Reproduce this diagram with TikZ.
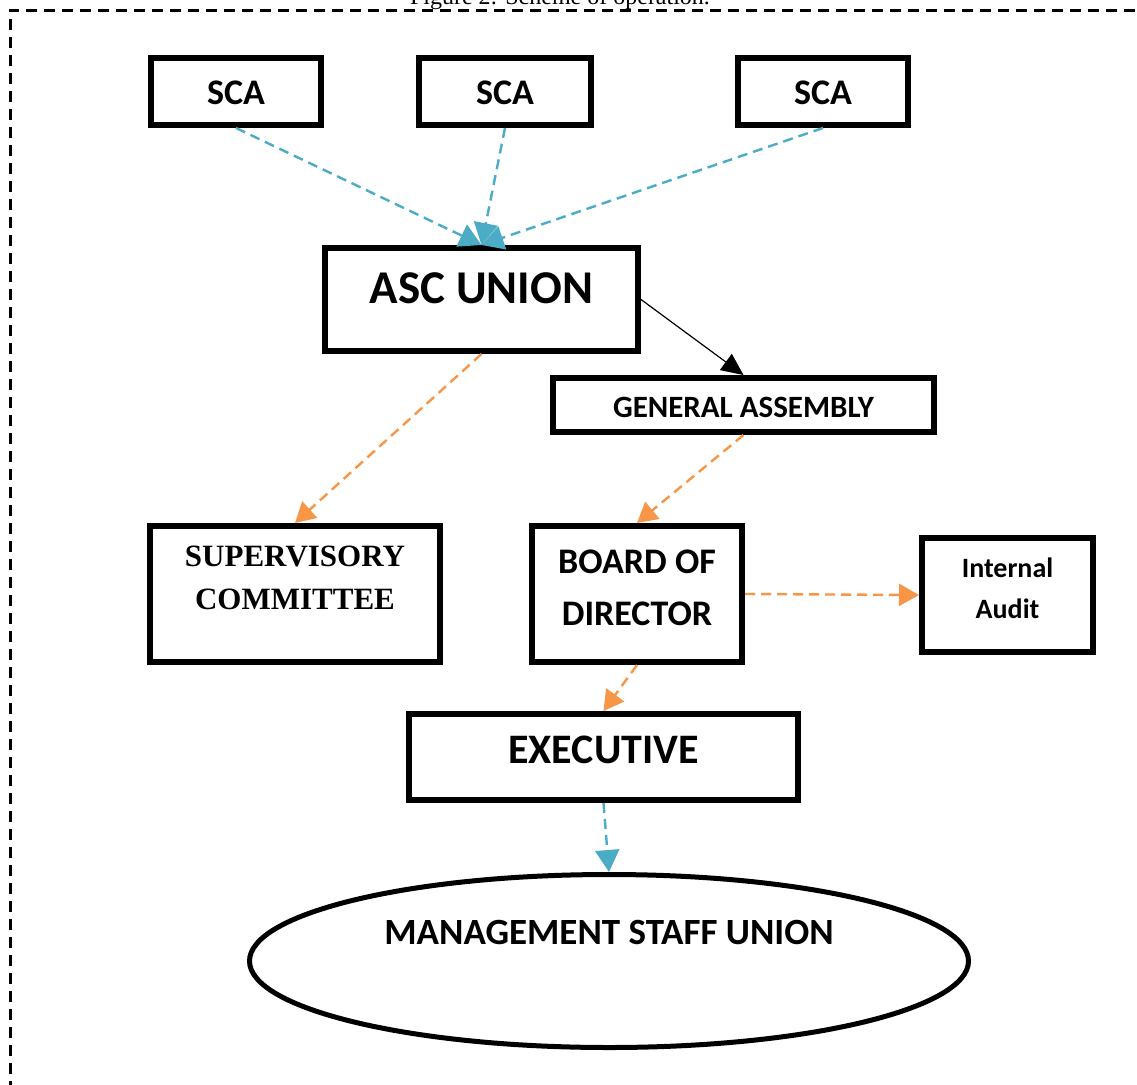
\documentclass[tikz,border=0pt]{standalone}
\usepackage{fontspec}
\setmainfont{Carlito}
\newfontfamily\timesf{Liberation Serif}
\usetikzlibrary{shapes.geometric,arrows.meta}
\definecolor{aqua}{HTML}{4BACC6}
\definecolor{orng}{HTML}{F79646}
\begin{document}
\begin{tikzpicture}[x=1pt,y=-1pt,
  boxnode/.style={draw,line width=6pt,inner sep=0pt},
  lbl/.style={inner sep=0pt,align=center,font=\bfseries},
  bluearrow/.style={aqua,line width=2.4pt,dash pattern=on 10pt off 6pt,-{Triangle[length=22pt,width=24pt]}},
  orngarrow/.style={orng,line width=2.4pt,dash pattern=on 10pt off 6pt,-{Triangle[length=20pt,width=22pt]}},
  blackarrow/.style={black,line width=1.2pt,-{Triangle[length=22pt,width=20pt]}},
  framestyle/.style={line width=3pt,dash pattern=on 11pt off 7pt}]
\useasboundingbox (0,0) rectangle (1137,1084);
\clip (0,0) rectangle (1137,1084);
\fill[white] (0,0) rectangle (1137,1084);
% frame and caption
\draw[framestyle] (10,1200) -- (10,10) -- (1250,10);
\node[anchor=base,inner sep=0pt,font=\timesf\fontsize{24}{28}\selectfont] (cap) at (560,5) {Figure 2: Scheme of operation.};
% boxes
\node[boxnode,minimum width=170pt,minimum height=67pt] (sca1) at (236,91.5) {};
\node[boxnode,minimum width=172pt,minimum height=67pt] (sca2) at (505,91.5) {};
\node[boxnode,minimum width=170pt,minimum height=67pt] (sca3) at (823,91.5) {};
\node[boxnode,minimum width=313pt,minimum height=103pt] (asc) at (481.5,299.5) {};
\node[boxnode,minimum width=381pt,minimum height=54pt] (ga) at (743.5,405) {};
\node[boxnode,minimum width=290pt,minimum height=136pt] (sup) at (295,594) {};
\node[boxnode,minimum width=210pt,minimum height=136pt] (bod) at (637,594) {};
\node[boxnode,minimum width=171pt,minimum height=114pt] (ia) at (1007.5,595) {};
\node[boxnode,minimum width=389pt,minimum height=86pt] (exe) at (603.5,757) {};
\node[draw,ellipse,line width=5pt,minimum width=719pt,minimum height=173pt,inner sep=0pt] (msu) at (609,961) {};
% labels
\node[lbl,font=\bfseries\fontsize{36}{40}\selectfont] (sca1t) at (236,93) {SCA};
\node[lbl,font=\bfseries\fontsize{36}{40}\selectfont] (sca2t) at (505,93) {SCA};
\node[lbl,font=\bfseries\fontsize{36}{40}\selectfont] (sca3t) at (823,93) {SCA};
\node[lbl,font=\bfseries\fontsize{47}{50}\selectfont] (asct) at (481.5,288) {ASC UNION};
\node[lbl,font=\bfseries\fontsize{31}{34}\selectfont] (gat) at (743.5,407) {GENERAL ASSEMBLY};
\node[lbl,font=\timesf\bfseries\fontsize{31}{43}\selectfont] (supt) at (295,578) {SUPERVISORY\\COMMITTEE};
\node[lbl,font=\bfseries\fontsize{36}{52}\selectfont] (bodt) at (637,588) {BOARD OF\\DIRECTOR};
\node[lbl,font=\bfseries\fontsize{28}{41}\selectfont] (iat) at (1007.5,588) {Internal\\Audit};
\node[lbl,font=\bfseries\fontsize{42}{46}\selectfont] (exet) at (603.5,750) {EXECUTIVE};
\node[lbl,font=\bfseries\fontsize{37}{40}\selectfont] (msut) at (609,932) {MANAGEMENT STAFF UNION};
% connectors
\draw[bluearrow] (sca1.south) -- (asc.north);
\draw[bluearrow] (sca2.south) -- (asc.north);
\draw[bluearrow] (sca3.south) -- (asc.north);
\draw[blackarrow] (asc.east) -- (ga.north);
\draw[orngarrow] (asc.south) -- (sup.north);
\draw[orngarrow] (ga.south) -- (bod.north);
\draw[orngarrow] (bod.east) -- (ia.west);
\draw[orngarrow] (bod.south) -- (exe.north);
\draw[bluearrow] (exe.south) -- (msu.north);
\end{tikzpicture}
\end{document}
